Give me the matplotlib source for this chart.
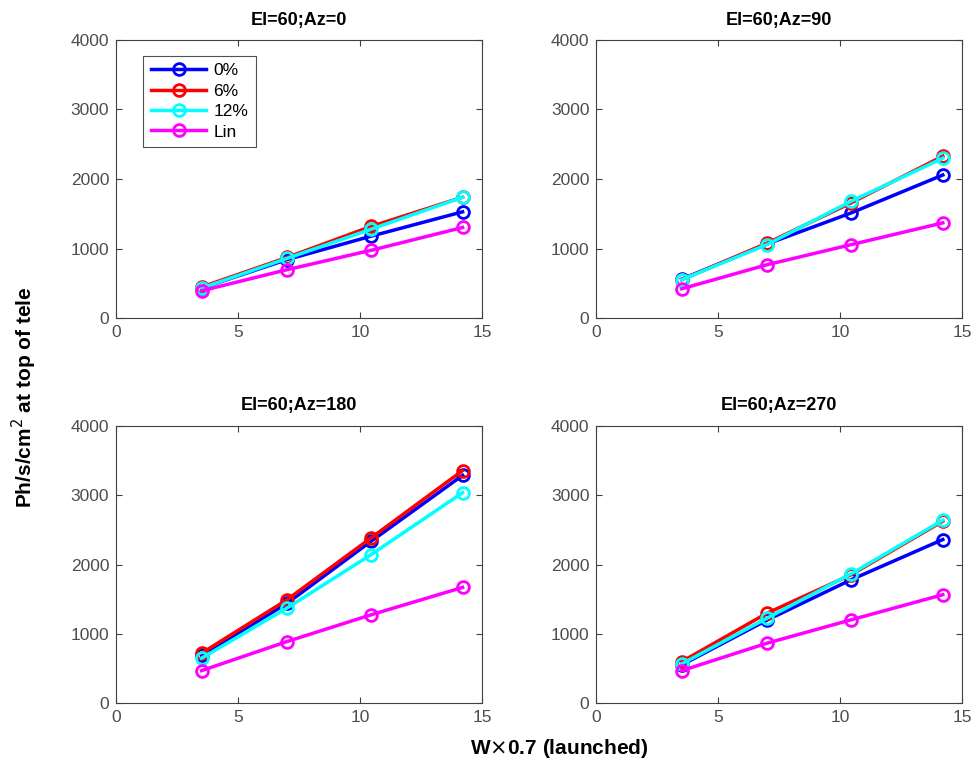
import numpy as np
import matplotlib
matplotlib.use('Agg')
import matplotlib.pyplot as plt

plt.rcParams['font.family'] = ['Liberation Sans', 'DejaVu Sans']

# Datos
w = [3.5, 7.0, 10.45, 14.2]
series = ['0%', '6%', '12%', 'Lin']
colores = ['#0000ff', '#ff0000', '#00ffff', '#ff00ff']
titulos = ['El=60;Az=0', 'El=60;Az=90', 'El=60;Az=180', 'El=60;Az=270']

az0 = [
    [433, 843, 1180, 1530],
    [449, 874, 1320, 1740],
    [433, 860, 1280, 1740],
    [395, 698, 977, 1305],
]
az90 = [
    [563, 1068, 1515, 2059],
    [555, 1080, 1660, 2330],
    [555, 1060, 1683, 2300],
    [424, 770, 1059, 1371],
]
az180 = [
    [690, 1440, 2335, 3285],
    [722, 1492, 2384, 3354],
    [650, 1372, 2143, 3035],
    [471, 890, 1276, 1670],
]
az270 = [
    [553, 1200, 1782, 2360],
    [601, 1300, 1854, 2624],
    [568, 1228, 1868, 2638],
    [471, 867, 1204, 1565],
]
datos = [az0, az90, az180, az270]

fig = plt.figure(figsize=(9.76, 7.67), dpi=100)
posiciones = [
    [0.119, 0.585, 0.375, 0.363],
    [0.611, 0.585, 0.375, 0.363],
    [0.119, 0.083, 0.375, 0.362],
    [0.611, 0.083, 0.375, 0.362],
]

gris = '#4d4d4d'
for k in range(4):
    ax = fig.add_axes(posiciones[k])
    for j in range(4):
        ax.plot(w, datos[k][j], color=colores[j], lw=2.5, marker='o',
                ms=8.5, mfc='none', mew=2, label=series[j])
    ax.set_xlim(0, 15)
    ax.set_ylim(0, 4000)
    ax.set_xticks([0, 5, 10, 15])
    ax.set_yticks([0, 1000, 2000, 3000, 4000])
    ax.tick_params(direction='in', top=True, right=True, labelsize=12.5,
                   colors='#404040', labelcolor=gris, length=4, pad=5)
    for s in ax.spines.values():
        s.set_color('#404040')
        s.set_linewidth(0.8)
    ax.set_title(titulos[k], fontsize=13, fontweight='bold', pad=11)
    if k == 0:
        leg = ax.legend(loc='upper left', bbox_to_anchor=(0.05, 0.975),
                        fontsize=12.5, fancybox=False, edgecolor='#262626',
                        handlelength=3.2, borderpad=0.45, labelspacing=0.3,
                        handletextpad=0.4)
        leg.get_frame().set_linewidth(0.8)

fig.text(0.025, 0.482, r'Ph/s/cm$^2$ at top of tele', rotation=90,
         ha='center', va='center', fontsize=15, fontweight='bold')
fig.text(0.573, 0.024, r'W$\times$0.7 (launched)', ha='center', va='center',
         fontsize=15, fontweight='bold')

plt.savefig('out.png', dpi=100)
